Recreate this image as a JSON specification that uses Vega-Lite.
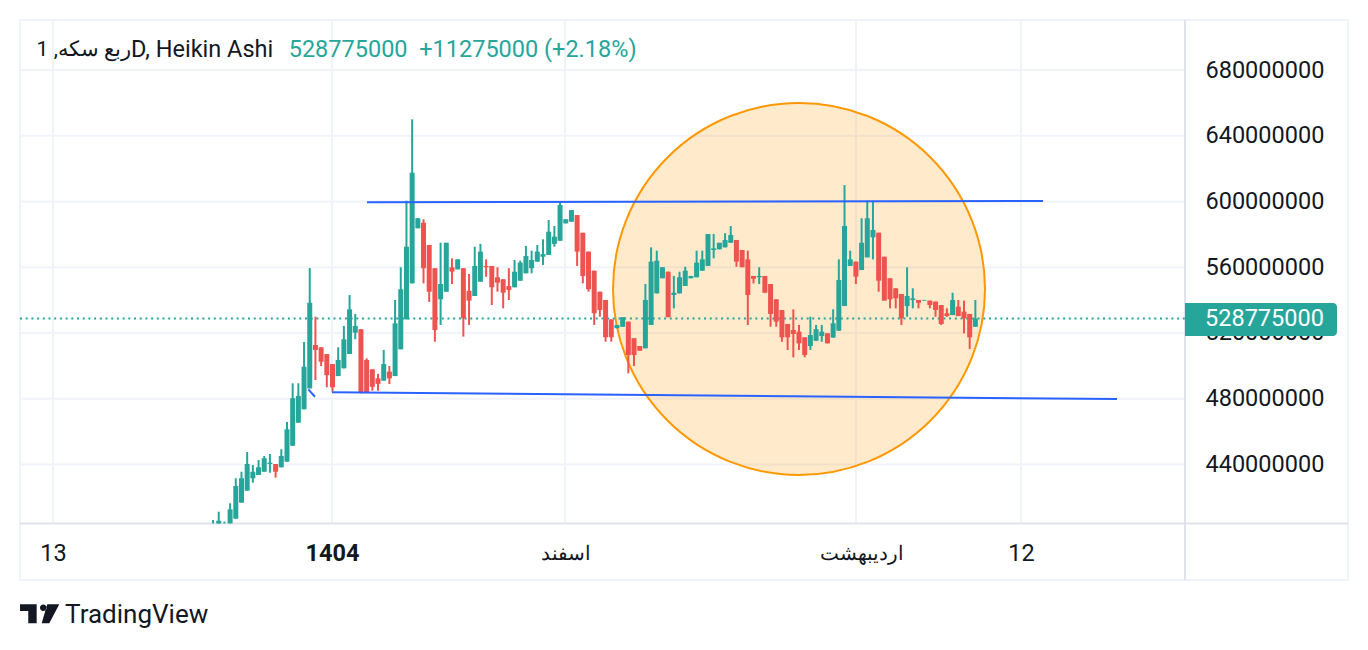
{
  "$schema": "https://vega.github.io/schema/vega-lite/v6.json",
  "width": 1328,
  "height": 560,
  "autosize": {"type": "none"},
  "padding": {"left": 20, "top": 20, "right": 20, "bottom": 70},
  "background": "#ffffff",
  "config": {"view": {"stroke": "#f0f3fa", "strokeWidth": 2}, "font": "Roboto", "scale": {"continuousPadding": 0}},
  "layer": [
    {
      "data": {"values": [{"v": 440}, {"v": 480}, {"v": 520}, {"v": 560}, {"v": 600}, {"v": 640}, {"v": 680}]},
      "mark": {"type": "rule", "color": "#f0f3fa", "strokeWidth": 2},
      "encoding": {
        "x": {"datum": -32.93, "type": "quantitative", "scale": {"domain": [-32.93, 200.5], "nice": false, "zero": false, "padding": 0},
          "axis": {"orient": "bottom", "offset": -56, "values": [-27.13, 21.91, 62.87, 114.02, 143.02],
            "labelExpr": "datum.value < 0 ? '13' : datum.value < 40 ? '1404' : datum.value < 90 ? 'اسفند' : datum.value < 130 ? 'اردیبهشت' : '12'",
            "domain": false, "ticks": false, "grid": false, "labelPadding": 29, "labelBaseline": "middle",
            "labelFont": "Roboto", "labelColor": "#131722",
            "labelFontSize": {"condition": {"test": "datum.value > 50 && datum.value < 130", "value": 20.3}, "value": 23.5},
            "labelFontWeight": {"condition": {"test": "datum.value > 20 && datum.value < 23", "value": "bold"}, "value": "normal"},
            "labelOffset": {"condition": {"test": "datum.value > 110 && datum.value < 120", "value": 5}, "value": 0},
            "labelOverlap": false, "labelFlush": false, "labelBound": false, "title": null}},
        "x2": {"datum": 171.85},
        "y": {"field": "v", "type": "quantitative", "scale": {"domain": [369.73, 710.42], "nice": false, "zero": false, "padding": 0},
          "axis": {"orient": "right", "offset": -163, "values": [440, 480, 520, 560, 600, 640, 680],
            "labelExpr": "datum.value + '000000'", "domain": false, "ticks": false, "grid": false,
            "labelPadding": 20, "labelFont": "Roboto", "labelFontSize": 23.5, "labelColor": "#131722",
            "labelOverlap": false, "labelBound": false, "title": null}}
      }
    },
    {
      "data": {"values": [{"t": -27.13}, {"t": 21.91}, {"t": 62.87}, {"t": 114.02}, {"t": 143.02}]},
      "mark": {"type": "rule", "color": "#f0f3fa", "strokeWidth": 2},
      "encoding": {
        "x": {"field": "t", "type": "quantitative", "scale": {"domain": [-32.93, 200.5], "nice": false, "zero": false, "padding": 0}},
        "y": {"datum": 404.1, "type": "quantitative", "scale": {"domain": [369.73, 710.42], "nice": false, "zero": false, "padding": 0}},
        "y2": {"datum": 710.42}
      }
    },
    {
      "data": {"values": [{"i": 104.0, "p": 546.77}]},
      "mark": {"type": "point", "shape": "circle", "size": 138384, "filled": true, "fill": "#ff9800", "fillOpacity": 0.2, "stroke": "#ff9800", "strokeWidth": 2, "strokeOpacity": 1, "opacity": 1},
      "encoding": {
        "x": {"field": "i", "type": "quantitative", "scale": {"domain": [-32.93, 200.5], "nice": false, "zero": false, "padding": 0}},
        "y": {"field": "p", "type": "quantitative", "scale": {"domain": [369.73, 710.42], "nice": false, "zero": false, "padding": 0}}
      }
    },
    {
      "data": {"values": [{}]},
      "mark": {"type": "rule", "color": "#e0e3eb", "strokeWidth": 2},
      "encoding": {
        "x": {"datum": 171.85, "type": "quantitative", "scale": {"domain": [-32.93, 200.5], "nice": false, "zero": false, "padding": 0}}
      }
    },
    {
      "data": {"values": [{}]},
      "mark": {"type": "rule", "color": "#e0e3eb", "strokeWidth": 2},
      "encoding": {
        "y": {"datum": 404.1, "type": "quantitative", "scale": {"domain": [369.73, 710.42], "nice": false, "zero": false, "padding": 0}}
      }
    },
    {
      "data": {"values": [{}]},
      "mark": {"type": "rule", "color": "#26a69a", "strokeWidth": 2, "strokeDash": [2, 3.7]},
      "encoding": {
        "x": {"datum": -32.93, "type": "quantitative", "scale": {"domain": [-32.93, 200.5], "nice": false, "zero": false, "padding": 0}},
        "x2": {"datum": 171.85},
        "y": {"datum": 528.775, "type": "quantitative", "scale": {"domain": [369.73, 710.42], "nice": false, "zero": false, "padding": 0}}
      }
    },
    {
      "data": {"values": [
        {"i":1,"o":404.1,"h":406.2,"l":404.1,"c":404.1},
        {"i":2,"o":404.1,"h":411.3,"l":404.1,"c":405.8},
        {"i":3,"o":404.1,"h":405.2,"l":404.1,"c":404.1},
        {"i":4,"o":404.2,"h":416.4,"l":404.1,"c":412.7},
        {"i":5,"o":407.0,"h":431.6,"l":407.0,"c":426.9},
        {"i":6,"o":416.8,"h":435.6,"l":416.8,"c":431.6},
        {"i":7,"o":424.1,"h":447.6,"l":424.1,"c":440.3},
        {"i":8,"o":431.6,"h":439.7,"l":428.9,"c":435.6},
        {"i":9,"o":433.6,"h":442.7,"l":433.6,"c":438.3},
        {"i":10,"o":435.6,"h":445.2,"l":435.6,"c":443.8},
        {"i":11,"o":440.3,"h":446.4,"l":435.0,"c":441.1},
        {"i":12,"o":440.3,"h":440.3,"l":432.0,"c":435.6},
        {"i":13,"o":438.3,"h":449.3,"l":438.3,"c":445.2},
        {"i":14,"o":441.7,"h":465.9,"l":441.7,"c":461.4},
        {"i":15,"o":451.4,"h":489.4,"l":451.4,"c":480.3},
        {"i":16,"o":465.4,"h":489.4,"l":465.4,"c":481.7},
        {"i":17,"o":473.6,"h":514.5,"l":473.6,"c":499.5},
        {"i":18,"o":486.3,"h":559.5,"l":486.3,"c":538.4},
        {"i":19,"o":512.7,"h":529.9,"l":491.4,"c":509.7},
        {"i":20,"o":511.3,"h":511.3,"l":499.9,"c":502.5},
        {"i":21,"o":507.2,"h":507.2,"l":487.0,"c":494.4},
        {"i":22,"o":501.1,"h":501.1,"l":484.3,"c":487.0},
        {"i":23,"o":493.8,"h":511.3,"l":493.8,"c":503.6},
        {"i":24,"o":498.5,"h":524.3,"l":498.5,"c":516.2},
        {"i":25,"o":507.2,"h":543.1,"l":507.2,"c":534.4},
        {"i":26,"o":520.2,"h":531.6,"l":516.2,"c":524.3},
        {"i":27,"o":522.3,"h":522.3,"l":483.3,"c":483.7},
        {"i":28,"o":503.6,"h":504.6,"l":483.7,"c":483.7},
        {"i":29,"o":497.9,"h":497.9,"l":484.9,"c":487.3},
        {"i":30,"o":492.4,"h":495.1,"l":484.9,"c":489.0},
        {"i":31,"o":491.0,"h":509.7,"l":491.0,"c":501.1},
        {"i":32,"o":496.5,"h":499.9,"l":489.0,"c":492.4},
        {"i":33,"o":493.8,"h":540.1,"l":493.8,"c":525.9},
        {"i":34,"o":510.1,"h":560.0,"l":510.1,"c":546.6},
        {"i":35,"o":528.3,"h":600.5,"l":528.3,"c":572.5},
        {"i":36,"o":550.2,"h":650.0,"l":550.2,"c":617.5},
        {"i":37,"o":583.7,"h":589.8,"l":583.7,"c":589.8},
        {"i":38,"o":587.1,"h":589.2,"l":550.2,"c":559.4},
        {"i":39,"o":573.5,"h":573.5,"l":538.9,"c":545.1},
        {"i":40,"o":559.4,"h":559.4,"l":514.7,"c":521.8},
        {"i":41,"o":540.5,"h":574.9,"l":524.9,"c":549.8},
        {"i":42,"o":545.1,"h":574.9,"l":545.1,"c":574.9},
        {"i":43,"o":560.0,"h":565.4,"l":549.8,"c":557.3},
        {"i":44,"o":558.7,"h":564.8,"l":558.7,"c":564.8},
        {"i":45,"o":559.4,"h":559.4,"l":517.8,"c":528.9},
        {"i":46,"o":545.7,"h":555.9,"l":524.9,"c":539.7},
        {"i":47,"o":542.5,"h":572.5,"l":542.5,"c":560.8},
        {"i":48,"o":551.2,"h":574.2,"l":551.2,"c":569.5},
        {"i":49,"o":560.8,"h":564.8,"l":554.2,"c":560.0},
        {"i":50,"o":560.8,"h":560.8,"l":537.0,"c":547.8},
        {"i":51,"o":553.9,"h":560.0,"l":545.1,"c":550.6},
        {"i":52,"o":552.7,"h":552.7,"l":535.0,"c":544.5},
        {"i":53,"o":548.6,"h":559.4,"l":540.1,"c":546.2},
        {"i":54,"o":547.8,"h":564.4,"l":547.8,"c":557.3},
        {"i":55,"o":551.8,"h":564.0,"l":551.8,"c":562.8},
        {"i":56,"o":556.3,"h":572.9,"l":556.3,"c":566.8},
        {"i":57,"o":559.4,"h":570.1,"l":556.3,"c":564.4},
        {"i":58,"o":563.4,"h":573.5,"l":563.4,"c":569.5},
        {"i":59,"o":566.4,"h":577.0,"l":561.4,"c":568.0},
        {"i":60,"o":567.5,"h":588.7,"l":567.5,"c":581.6},
        {"i":61,"o":574.2,"h":585.1,"l":572.5,"c":578.6},
        {"i":62,"o":576.1,"h":599.9,"l":576.1,"c":597.9},
        {"i":63,"o":586.7,"h":589.2,"l":586.7,"c":589.2},
        {"i":64,"o":587.7,"h":594.8,"l":587.7,"c":594.8},
        {"i":65,"o":591.8,"h":591.8,"l":560.8,"c":569.5},
        {"i":66,"o":581.0,"h":581.0,"l":550.2,"c":554.7},
        {"i":67,"o":569.5,"h":569.5,"l":545.1,"c":546.6},
        {"i":68,"o":557.9,"h":557.9,"l":524.9,"c":532.0},
        {"i":69,"o":545.1,"h":545.1,"l":529.9,"c":534.0},
        {"i":70,"o":540.1,"h":540.1,"l":514.7,"c":517.4},
        {"i":71,"o":528.3,"h":528.3,"l":514.7,"c":517.4},
        {"i":72,"o":522.9,"h":524.9,"l":522.9,"c":524.9},
        {"i":73,"o":523.8,"h":529.6,"l":523.8,"c":529.6},
        {"i":74,"o":526.9,"h":526.9,"l":495.5,"c":506.6},
        {"i":75,"o":516.8,"h":516.8,"l":499.9,"c":506.6},
        {"i":76,"o":512.1,"h":512.1,"l":509.2,"c":509.2},
        {"i":77,"o":510.7,"h":549.8,"l":510.7,"c":540.1},
        {"i":78,"o":524.9,"h":572.1,"l":524.9,"c":563.4},
        {"i":79,"o":544.1,"h":570.1,"l":544.1,"c":564.0},
        {"i":80,"o":553.3,"h":560.0,"l":553.3,"c":560.0},
        {"i":81,"o":557.3,"h":557.3,"l":529.6,"c":529.6},
        {"i":82,"o":543.1,"h":554.7,"l":535.0,"c":544.5},
        {"i":83,"o":544.1,"h":557.3,"l":544.1,"c":553.9},
        {"i":84,"o":548.6,"h":560.3,"l":548.6,"c":557.9},
        {"i":85,"o":553.3,"h":554.7,"l":553.3,"c":554.7},
        {"i":86,"o":553.9,"h":570.1,"l":553.9,"c":562.8},
        {"i":87,"o":557.9,"h":570.1,"l":557.9,"c":564.8},
        {"i":88,"o":560.8,"h":580.2,"l":560.8,"c":580.2},
        {"i":89,"o":570.5,"h":580.2,"l":565.4,"c":571.5},
        {"i":90,"o":570.9,"h":574.9,"l":570.9,"c":574.9},
        {"i":91,"o":572.1,"h":580.7,"l":572.1,"c":576.6},
        {"i":92,"o":574.9,"h":585.1,"l":574.9,"c":579.6},
        {"i":93,"o":576.6,"h":576.6,"l":560.3,"c":563.4},
        {"i":94,"o":570.5,"h":570.5,"l":560.0,"c":560.0},
        {"i":95,"o":564.8,"h":570.1,"l":524.9,"c":543.1},
        {"i":96,"o":554.7,"h":554.7,"l":550.2,"c":553.0},
        {"i":97,"o":553.9,"h":560.0,"l":549.8,"c":554.7},
        {"i":98,"o":554.7,"h":554.7,"l":544.5,"c":544.5},
        {"i":99,"o":549.8,"h":549.8,"l":523.8,"c":531.6},
        {"i":100,"o":540.5,"h":540.5,"l":523.8,"c":526.9},
        {"i":101,"o":534.0,"h":534.0,"l":514.7,"c":517.4},
        {"i":102,"o":525.5,"h":525.5,"l":509.7,"c":517.4},
        {"i":103,"o":521.8,"h":534.4,"l":505.2,"c":519.4},
        {"i":104,"o":520.8,"h":524.9,"l":509.7,"c":513.7},
        {"i":105,"o":517.4,"h":517.4,"l":505.2,"c":506.6},
        {"i":106,"o":512.1,"h":529.9,"l":509.7,"c":518.8},
        {"i":107,"o":515.3,"h":524.9,"l":515.3,"c":522.3},
        {"i":108,"o":518.2,"h":524.9,"l":514.7,"c":520.8},
        {"i":109,"o":519.8,"h":519.8,"l":513.7,"c":513.7},
        {"i":110,"o":517.2,"h":534.4,"l":517.2,"c":525.9},
        {"i":111,"o":521.4,"h":564.8,"l":521.4,"c":552.2},
        {"i":112,"o":536.4,"h":610.0,"l":536.4,"c":585.1},
        {"i":113,"o":560.8,"h":570.1,"l":560.8,"c":564.8},
        {"i":114,"o":563.4,"h":563.4,"l":549.8,"c":554.3},
        {"i":115,"o":558.3,"h":589.8,"l":558.3,"c":574.9},
        {"i":116,"o":566.0,"h":600.5,"l":566.0,"c":589.8},
        {"i":117,"o":578.2,"h":600.5,"l":564.8,"c":582.7},
        {"i":118,"o":581.0,"h":581.0,"l":545.1,"c":551.8},
        {"i":119,"o":566.4,"h":566.4,"l":539.7,"c":539.7},
        {"i":120,"o":553.3,"h":553.3,"l":535.0,"c":540.5},
        {"i":121,"o":547.2,"h":547.2,"l":535.0,"c":541.1},
        {"i":122,"o":543.7,"h":543.7,"l":524.9,"c":528.9},
        {"i":123,"o":536.4,"h":560.0,"l":529.9,"c":542.5},
        {"i":124,"o":540.1,"h":547.2,"l":535.0,"c":541.1},
        {"i":125,"o":540.1,"h":540.1,"l":535.0,"c":538.4},
        {"i":126,"o":539.7,"h":540.1,"l":539.7,"c":540.1},
        {"i":127,"o":539.7,"h":539.7,"l":535.0,"c":537.0},
        {"i":128,"o":539.1,"h":539.1,"l":529.9,"c":534.0},
        {"i":129,"o":537.0,"h":537.0,"l":524.9,"c":525.5},
        {"i":130,"o":532.0,"h":535.0,"l":529.9,"c":530.3},
        {"i":131,"o":530.9,"h":544.5,"l":530.9,"c":540.1},
        {"i":132,"o":536.0,"h":540.1,"l":530.3,"c":530.3},
        {"i":133,"o":533.0,"h":539.7,"l":519.8,"c":528.9},
        {"i":134,"o":531.6,"h":531.6,"l":510.3,"c":517.4},
        {"i":135,"o":523.8,"h":540.1,"l":523.8,"c":528.775}
      ]},
      "layer": [
        {
          "mark": {"type": "rule", "strokeWidth": 2},
          "encoding": {
            "x": {"field": "i", "type": "quantitative", "scale": {"domain": [-32.93, 200.5], "nice": false, "zero": false, "padding": 0}},
            "y": {"field": "l", "type": "quantitative", "scale": {"domain": [369.73, 710.42], "nice": false, "zero": false, "padding": 0}},
            "y2": {"field": "h"},
            "color": {"condition": {"test": "datum.c >= datum.o", "value": "#26a69a"}, "value": "#ef5350"}
          }
        },
        {
          "mark": {"type": "bar", "size": 5},
          "encoding": {
            "x": {"field": "i", "type": "quantitative", "scale": {"domain": [-32.93, 200.5], "nice": false, "zero": false, "padding": 0}},
            "y": {"field": "o", "type": "quantitative", "scale": {"domain": [369.73, 710.42], "nice": false, "zero": false, "padding": 0}},
            "y2": {"field": "c"},
            "color": {"condition": {"test": "datum.c >= datum.o", "value": "#26a69a"}, "value": "#ef5350"}
          }
        }
      ]
    },
    {
      "data": {"values": [
        {"x1": 28.06, "p1": 599.5, "x2": 146.89, "p2": 600.3},
        {"x1": 21.91, "p1": 483.9, "x2": 159.9, "p2": 479.8},
        {"x1": 17.75, "p1": 485.7, "x2": 18.92, "p2": 481.2}
      ]},
      "mark": {"type": "rule", "color": "#2962ff", "strokeWidth": 2},
      "encoding": {
        "x": {"field": "x1", "type": "quantitative", "scale": {"domain": [-32.93, 200.5], "nice": false, "zero": false, "padding": 0}},
        "x2": {"field": "x2"},
        "y": {"field": "p1", "type": "quantitative", "scale": {"domain": [369.73, 710.42], "nice": false, "zero": false, "padding": 0}},
        "y2": {"field": "p2"}
      }
    },
    {
      "data": {"values": [{}]},
      "mark": {"type": "rect", "color": "#26a69a", "cornerRadiusTopRight": 4, "cornerRadiusBottomRight": 4},
      "encoding": {
        "x": {"datum": 171.85, "type": "quantitative", "scale": {"domain": [-32.93, 200.5], "nice": false, "zero": false, "padding": 0}},
        "x2": {"datum": 198.57},
        "y": {"datum": 538.25, "type": "quantitative", "scale": {"domain": [369.73, 710.42], "nice": false, "zero": false, "padding": 0}},
        "y2": {"datum": 518.17}
      }
    },
    {
      "data": {"values": [{"label": "528775000"}]},
      "mark": {"type": "text", "align": "left", "baseline": "middle", "font": "Roboto", "fontSize": 23.5, "color": "#ffffff"},
      "encoding": {
        "x": {"datum": 175.37, "type": "quantitative", "scale": {"domain": [-32.93, 200.5], "nice": false, "zero": false, "padding": 0}},
        "y": {"datum": 528.5, "type": "quantitative", "scale": {"domain": [369.73, 710.42], "nice": false, "zero": false, "padding": 0}},
        "text": {"field": "label"}
      }
    },
    {
      "data": {"values": [{"label": "ربع سکه, 1"}]},
      "mark": {"type": "text", "align": "right", "baseline": "middle", "font": "Roboto", "fontSize": 21, "color": "#131722"},
      "encoding": {
        "x": {"datum": -13.42, "type": "quantitative", "scale": {"domain": [-32.93, 200.5], "nice": false, "zero": false, "padding": 0}},
        "y": {"datum": 692.17, "type": "quantitative", "scale": {"domain": [369.73, 710.42], "nice": false, "zero": false, "padding": 0}},
        "text": {"field": "label"}
      }
    },
    {
      "data": {"values": [{"label": "D, Heikin Ashi"}]},
      "mark": {"type": "text", "align": "left", "baseline": "middle", "font": "Roboto", "fontSize": 23.5, "color": "#131722"},
      "encoding": {
        "x": {"datum": -13.42, "type": "quantitative", "scale": {"domain": [-32.93, 200.5], "nice": false, "zero": false, "padding": 0}},
        "y": {"datum": 692.17, "type": "quantitative", "scale": {"domain": [369.73, 710.42], "nice": false, "zero": false, "padding": 0}},
        "text": {"field": "label"}
      }
    },
    {
      "data": {"values": [{"label": "528775000\u00a0\u00a0+11275000 (+2.18%)"}]},
      "mark": {"type": "text", "align": "left", "baseline": "middle", "font": "Roboto", "fontSize": 23.5, "color": "#26a69a"},
      "encoding": {
        "x": {"datum": 14.3, "type": "quantitative", "scale": {"domain": [-32.93, 200.5], "nice": false, "zero": false, "padding": 0}},
        "y": {"datum": 692.17, "type": "quantitative", "scale": {"domain": [369.73, 710.42], "nice": false, "zero": false, "padding": 0}},
        "text": {"field": "label"}
      }
    },
    {
      "data": {"values": [{}]},
      "mark": {"type": "point", "filled": true, "opacity": 1, "size": 1600, "color": "#131722", "strokeWidth": 0,
        "shape": "M-0.98,-0.475 L-0.148,-0.475 L-0.148,0.475 L-0.568,0.475 L-0.568,-0.14 L-0.98,-0.14 Z M0.0175,-0.305 A0.165,0.165 0 1,0 0.3475,-0.305 A0.165,0.165 0 1,0 0.0175,-0.305 Z M0.3825,-0.475 L0.9825,-0.475 L0.4825,0.475 L0.1025,0.475 Z"},
      "encoding": {
        "x": {"datum": -29.48, "type": "quantitative", "scale": {"domain": [-32.93, 200.5], "nice": false, "zero": false, "padding": 0}},
        "y": {"datum": 349.17, "type": "quantitative", "scale": {"domain": [369.73, 710.42], "nice": false, "zero": false, "padding": 0}}
      }
    },
    {
      "data": {"values": [{"label": "TradingView"}]},
      "mark": {"type": "text", "align": "left", "baseline": "alphabetic", "font": "Roboto", "fontSize": 26, "color": "#131722"},
      "encoding": {
        "x": {"datum": -25.0, "type": "quantitative", "scale": {"domain": [-32.93, 200.5], "nice": false, "zero": false, "padding": 0}},
        "y": {"datum": 343.57, "type": "quantitative", "scale": {"domain": [369.73, 710.42], "nice": false, "zero": false, "padding": 0}},
        "text": {"field": "label"}
      }
    }
  ]
}
